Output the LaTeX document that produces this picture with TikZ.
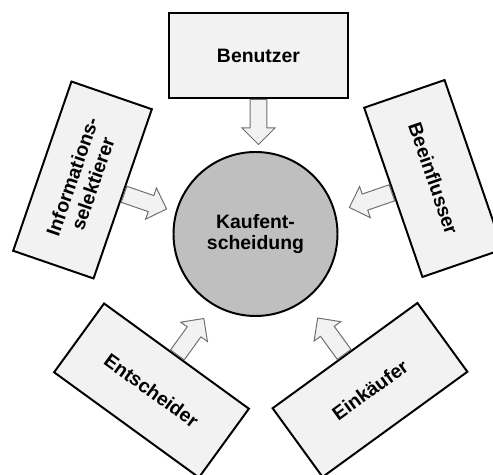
\documentclass[tikz,border=0pt]{standalone}
\usepackage{fontspec}
\setmainfont{Liberation Sans}
\usetikzlibrary{shapes.arrows}
\definecolor{boxgray}{HTML}{F2F2F2}
\definecolor{hubgray}{HTML}{BFBFBF}
\definecolor{tipgray}{HTML}{6F6F6F}
\newcommand{\rl}{\bfseries\fontsize{13.8}{15.4}\selectfont}
\tikzset{
  role/.style = {draw, fill=boxgray, line width=1.4pt, minimum width=4.475cm,
                 minimum height=2.125cm, inner sep=2pt, align=center, font=\rl},
  hub/.style  = {draw, circle, fill=hubgray, line width=1.4pt, minimum size=4.1cm,
                 inner sep=0pt, align=center, font=\rl},
  push/.style = {single arrow, draw=tipgray, fill=boxgray, line width=0.7pt,
                 inner sep=0.2cm, single arrow head extend=0.2cm,
                 minimum height=1.125cm, anchor=tail},
}

\begin{document}
\begin{tikzpicture}

  \useasboundingbox (-6.3875,-6.025) rectangle (5.9375,5.85);

  % ===== the decision ===================================================
  \node[hub] (kauf) at (0,0) {Kaufent-\\scheidung};

  % ===== the roles ======================================================
  \node[role]             (user)  at ( 0.075,  4.4625) {Benutzer};
  \node[role, rotate=71]  (info)  at (-4.325,  1.35)   {Informations-\\selektierer};
  \node[role, rotate=-71] (infl)  at ( 4.45,   1.3875) {Beeinflusser};
  \node[role, rotate=-36] (dec)   at (-2.6,   -3.9125) {Entscheider};
  \node[role, rotate=36]  (buyer) at ( 2.8625, -3.9)   {Einkäufer};

  % ===== the arrows into the decision ===================================
  \node[push, rotate=-90]  at (user.south)  {};
  \node[push, rotate=-19]  at (info.south)  {};
  \node[push, rotate=199]  at (infl.south)  {};
  \node[push, rotate=54]   at (dec.north)   {};
  \node[push, rotate=126]  at (buyer.north) {};

\end{tikzpicture}
\end{document}
